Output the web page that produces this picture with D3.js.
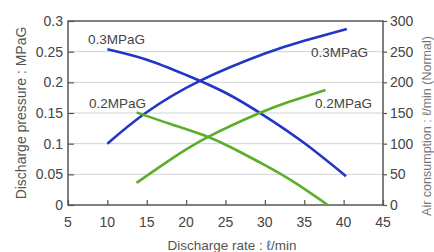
<!DOCTYPE html>
<html><head><meta charset="utf-8">
<script src="https://cdn.jsdelivr.net/npm/d3@7"></script>
<style>
html,body{margin:0;padding:0;background:#fff;}
svg{display:block;font-family:"Liberation Sans",Arial,sans-serif;}
</style></head>
<body><svg id="c" width="434" height="252"></svg>
<script>
// Data
const xTicks = [5,10,15,20,25,30,35,40,45];
const leftTicks = [0,0.05,0.1,0.15,0.2,0.25,0.3];
const rightTicks = [0,50,100,150,200,250,300];
// Discharge pressure (left axis)
const press03X = [10, 15, 20, 25, 30, 35, 40.3];
const press03Y = [0.254, 0.237, 0.212, 0.183, 0.145, 0.101, 0.047];
const press02X = [13.7, 18, 22.8, 26, 30, 34, 38];
const press02Y = [0.151, 0.132, 0.111, 0.092, 0.065, 0.035, 0];
// Air consumption (right axis)
const air03X = [10, 14.8, 21.8, 30, 35, 40.4];
const air03Y = [100, 149.5, 202.7, 247, 268, 287];
const air02X = [13.7, 18, 22.8, 29.25, 33, 37.7];
const air02Y = [36, 74, 111, 149.5, 168, 187.5];

const blue = "#2236c4", green = "#5cad2c";
const svg = d3.select("#c");
const L = 68, R = 383, T = 21, B = 205;
const x = d3.scaleLinear().domain([5,45]).range([L,R]);
const yL = d3.scaleLinear().domain([0,0.3]).range([B,T]);
const yR = d3.scaleLinear().domain([0,300]).range([B,T]);

// gridlines
svg.append("g").selectAll("line").data(leftTicks.filter(d=>d>0&&d<0.3)).join("line")
  .attr("x1",L).attr("x2",R).attr("y1",d=>yL(d)).attr("y2",d=>yL(d))
  .attr("stroke","#d2d2d2").attr("stroke-width",1);

// axes
const fmtL = d => d===0 ? "0" : String(+d.toFixed(2));
const gL = svg.append("g").attr("transform",`translate(${L},0)`)
  .call(d3.axisRight(yL).tickValues(leftTicks).tickSize(6).tickFormat(""));
const gR = svg.append("g").attr("transform",`translate(${R},0)`)
  .call(d3.axisRight(yR).tickValues(rightTicks).tickSize(4).tickFormat(""));
const gB = svg.append("g").attr("transform",`translate(0,${B})`)
  .call(d3.axisTop(x).tickValues(xTicks).tickSize(5).tickFormat(""));
[gL,gR,gB].forEach(g=>{g.select(".domain").remove(); g.selectAll("line").attr("stroke","#555").attr("stroke-width",1.2);});

// frame
svg.append("rect").attr("x",L).attr("y",T).attr("width",R-L).attr("height",B-T)
  .attr("fill","none").attr("stroke","#555").attr("stroke-width",1.5);

// tick labels
svg.append("g").selectAll("text").data(leftTicks).join("text")
  .attr("x",L-5).attr("y",d=>yL(d)).attr("dy","0.35em").attr("text-anchor","end")
  .attr("font-size",14).attr("fill","#444").text(fmtL);
svg.append("g").selectAll("text").data(rightTicks).join("text")
  .attr("x",R+7).attr("y",d=>yR(d)).attr("dy","0.35em").attr("text-anchor","start")
  .attr("font-size",14).attr("fill","#444").text(d=>d);
svg.append("g").selectAll("text").data(xTicks).join("text")
  .attr("x",d=>x(d)).attr("y",B+17).attr("dy","0.35em").attr("text-anchor","middle")
  .attr("font-size",14).attr("fill","#444").text(d=>d);

// axis titles
svg.append("text").attr("transform",`translate(21,${(T+B)/2}) rotate(-90)`)
  .attr("text-anchor","middle").attr("dy","0.35em").attr("font-size",14).attr("fill","#555")
  .text("Discharge pressure : MPaG");
svg.append("text").attr("x",232).attr("y",245).attr("dy","0.35em")
  .attr("text-anchor","middle").attr("font-size",13.5).attr("fill","#555")
  .text("Discharge rate : ℓ/min");
svg.append("text").attr("transform",`translate(427,126) rotate(-90)`)
  .attr("text-anchor","middle").attr("dy","0.35em").attr("font-size",12.5).attr("fill","#777")
  .text("Air consumption : ℓ/min (Normal)");

// curves
const line = d3.line().curve(d3.curveNatural);
function drawCurve(xs, ys, scale, color){
  const pts = xs.map((v,i)=>[x(v), scale(ys[i])]);
  svg.append("path").attr("d",line(pts)).attr("fill","none")
    .attr("stroke",color).attr("stroke-width",2.6);
}
drawCurve(press03X, press03Y, yL, blue);
drawCurve(air03X, air03Y, yR, blue);
drawCurve(press02X, press02Y, yL, green);
drawCurve(air02X, air02Y, yR, green);

// labels
const labels = [
  {t:"0.3MPaG", x:88, y:39},
  {t:"0.2MPaG", x:89, y:103},
  {t:"0.3MPaG", x:311, y:52},
  {t:"0.2MPaG", x:315, y:103}
];
svg.append("g").selectAll("text").data(labels).join("text")
  .attr("x",d=>d.x).attr("y",d=>d.y).attr("dy","0.35em")
  .attr("font-size",13.5).attr("fill","#444").text(d=>d.t);
</script></body></html>
